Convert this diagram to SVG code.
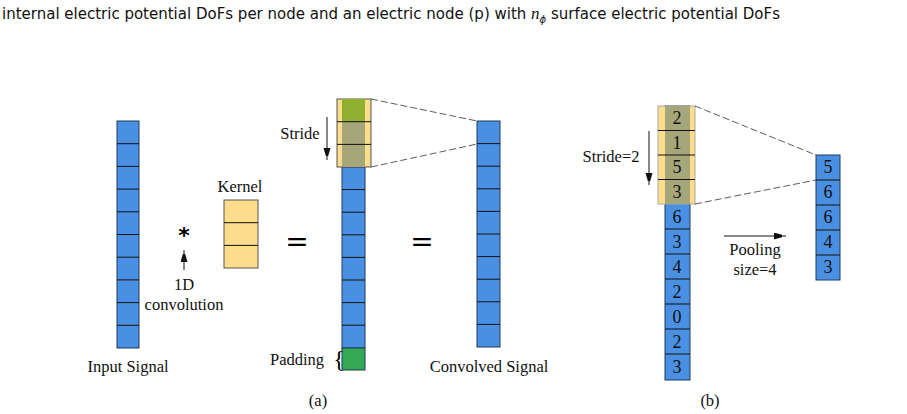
<svg xmlns="http://www.w3.org/2000/svg" width="907" height="414" viewBox="0 0 907 414">
<style>
.b{fill:#4a90e2;stroke:#1f3a5a;stroke-width:1}
.y{fill:#fbdd8c;stroke:#555;stroke-width:1}
.t{font-family:"Liberation Serif",serif;font-size:16.5px;fill:#111}
.n{font-family:"Liberation Serif",serif;font-size:18px;fill:#111}
.h{font-family:"DejaVu Sans",sans-serif;font-size:15px;fill:#111}
.d{stroke:#333;stroke-width:0.8;stroke-dasharray:7 3;fill:none}
.a{stroke:#111;stroke-width:1;fill:none}
</style>
<defs><marker id="m" markerWidth="8" markerHeight="14" refX="12" refY="3.5" orient="auto" markerUnits="userSpaceOnUse"><path d="M0,0L12,3.5L0,7z" fill="#111"/></marker></defs>
<text class="h" x="2" y="19">internal electric potential DoFs per node and an electric node (p) with <tspan font-style="italic" font-family="Liberation Serif" font-size="17">n</tspan><tspan font-size="10" dy="4" font-style="italic">ϕ</tspan><tspan dy="-4"> surface electric potential DoFs</tspan></text>
<g id="input"><rect class="b" x="117" y="121" width="22" height="227"/>
<path class="a" d="M117,143.7h22M117,166.4h22M117,189.1h22M117,211.8h22M117,234.5h22M117,257.2h22M117,279.9h22M117,302.6h22M117,325.3h22"/>
<text class="t" x="128" y="372" text-anchor="middle">Input Signal</text></g>
<g id="conv-op"><text x="184" y="243" font-family="DejaVu Sans,sans-serif" font-size="22" font-weight="bold" text-anchor="middle">*</text>
<text class="t" x="184" y="290" text-anchor="middle">1D</text><text class="t" x="184" y="310" text-anchor="middle">convolution</text></g>
<g id="kernel"><rect class="y" x="224" y="200" width="34" height="68"/><path class="a" d="M224,222.7h34M224,245.4h34"/>
<text class="t" x="240" y="192" text-anchor="middle">Kernel</text></g>
<g id="eq"><text x="297" y="251" font-family="DejaVu Sans,sans-serif" font-size="28" text-anchor="middle">=</text><text x="422" y="251" font-family="DejaVu Sans,sans-serif" font-size="28" text-anchor="middle">=</text></g>
<g id="padded"><rect class="b" x="342" y="167" width="23" height="181"/>
<path class="a" d="M342,189.6h23M342,212.2h23M342,234.8h23M342,257.4h23M342,280h23M342,302.6h23M342,325.2h23"/>
<rect x="342" y="348" width="23" height="22" fill="#34a853" stroke="#1f3a5a"/>
<rect x="337" y="99" width="34" height="68" fill="#fbdd8c" stroke="#555"/>
<rect x="342" y="99" width="23" height="22.7" fill="#8fb031"/>
<rect x="342" y="121.7" width="23" height="45.3" fill="#a5a67a"/>
<path class="a" d="M337,121.7h34M337,144.4h34"/>
<text class="t" x="300" y="139" text-anchor="middle">Stride</text>
<text class="t" x="297" y="365" text-anchor="middle">Padding</text>
<text x="339" y="367" font-family="Liberation Serif,serif" font-size="24" text-anchor="middle">{</text></g>
<g id="convolved"><rect class="b" x="477" y="121" width="23" height="226"/>
<path class="a" d="M477,143.6h23M477,166.2h23M477,188.8h23M477,211.4h23M477,234h23M477,256.6h23M477,279.2h23M477,301.8h23M477,324.4h23"/>
<text class="t" x="489" y="372" text-anchor="middle">Convolved Signal</text></g>
<g id="pool-in"><rect class="b" x="665" y="106" width="25" height="274"/>
<rect x="658" y="106" width="37" height="98" fill="#fbdd8c" stroke="#aaa"/>
<rect x="665" y="106" width="25" height="98" fill="#a5a67a"/>
<path class="a" d="M658,130.5h37M658,155h37M658,179.5h37M665,229h25M665,254h25M665,279h25M665,304h25M665,329h25M665,354h25" stroke-width="0.8"/>
<g class="n" text-anchor="middle"><text x="677" y="124">2</text><text x="677" y="149">1</text><text x="677" y="173">5</text><text x="677" y="198">3</text><text x="677" y="223">6</text><text x="677" y="248">3</text><text x="677" y="273">4</text><text x="677" y="298">2</text><text x="677" y="323">0</text><text x="677" y="348">2</text><text x="677" y="373">3</text></g>
<text class="t" x="611" y="162" text-anchor="middle">Stride=2</text></g>
<g id="pool-out"><rect class="b" x="816" y="155" width="24" height="125"/>
<path class="a" d="M816,180h24M816,205h24M816,230h24M816,255h24"/>
<g class="n" text-anchor="middle"><text x="828" y="173">5</text><text x="828" y="198">6</text><text x="828" y="223">6</text><text x="828" y="248">4</text><text x="828" y="273">3</text></g>
<text class="t" x="755" y="255" text-anchor="middle">Pooling</text><text class="t" x="755" y="275" text-anchor="middle">size=4</text></g>
<g id="connectors">
<path class="d" d="M371,99L477,121M371,167L477,144M695,106L816,155M695,204L816,180"/>
<path class="a" d="M184,270V250" marker-end="url(#m)"/>
<path class="a" d="M327,117V160" marker-end="url(#m)"/>
<path class="a" d="M649,131V185" marker-end="url(#m)"/>
<path class="a" d="M724,236H786" marker-end="url(#m)" stroke-width="0.8"/>
</g>
<text class="t" x="318" y="406" text-anchor="middle" font-size="14">(a)</text>
<text class="t" x="710" y="406" text-anchor="middle" font-size="14">(b)</text>
</svg>
